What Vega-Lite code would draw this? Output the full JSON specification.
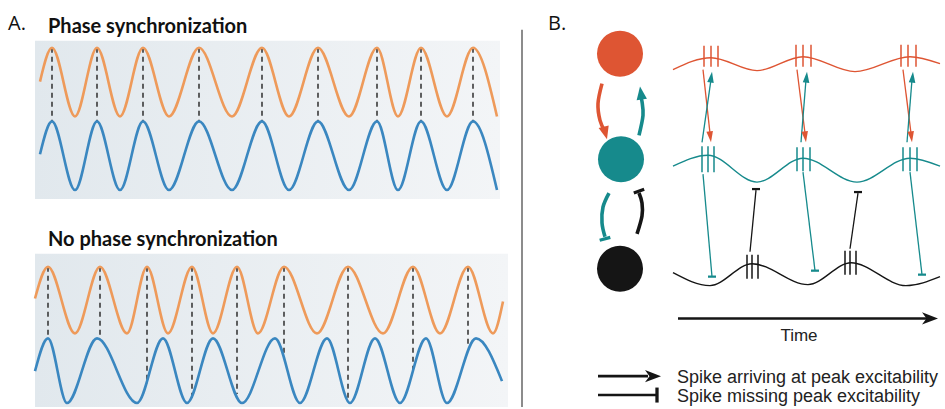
{
  "$schema": "https://vega.github.io/schema/vega-lite/v6.json",
  "width": 945,
  "height": 409,
  "autosize": {"type": "fit", "contains": "padding"},
  "padding": 0,
  "background": "white",
  "config": {"view": {"stroke": null}},
  "datasets": {
    "bg": [
      {"x": 35, "x2": 500, "y": 41, "y2": 200},
      {"x": 35, "x2": 508, "y": 255, "y2": 409}
    ],
    "wavesA": [
      {"g": "signal 1", "s": "A1o", "x": 40, "y": 82}, {"g": "signal 1", "s": "A1o", "x": 52, "y": 48}, {"g": "signal 1", "s": "A1o", "x": 75, "y": 117}, {"g": "signal 1", "s": "A1o", "x": 97, "y": 48}, {"g": "signal 1", "s": "A1o", "x": 120, "y": 117}, {"g": "signal 1", "s": "A1o", "x": 143, "y": 48}, {"g": "signal 1", "s": "A1o", "x": 169, "y": 117}, {"g": "signal 1", "s": "A1o", "x": 199, "y": 48}, {"g": "signal 1", "s": "A1o", "x": 232, "y": 117}, {"g": "signal 1", "s": "A1o", "x": 262, "y": 48}, {"g": "signal 1", "s": "A1o", "x": 289, "y": 117}, {"g": "signal 1", "s": "A1o", "x": 318, "y": 48}, {"g": "signal 1", "s": "A1o", "x": 349, "y": 117}, {"g": "signal 1", "s": "A1o", "x": 377, "y": 48}, {"g": "signal 1", "s": "A1o", "x": 398, "y": 117}, {"g": "signal 1", "s": "A1o", "x": 421, "y": 48}, {"g": "signal 1", "s": "A1o", "x": 447, "y": 117}, {"g": "signal 1", "s": "A1o", "x": 473, "y": 48}, {"g": "signal 1", "s": "A1o", "x": 497, "y": 117},
      {"g": "signal 2", "s": "A1b", "x": 40, "y": 155}, {"g": "signal 2", "s": "A1b", "x": 52, "y": 122}, {"g": "signal 2", "s": "A1b", "x": 75, "y": 191}, {"g": "signal 2", "s": "A1b", "x": 97, "y": 122}, {"g": "signal 2", "s": "A1b", "x": 120, "y": 191}, {"g": "signal 2", "s": "A1b", "x": 143, "y": 122}, {"g": "signal 2", "s": "A1b", "x": 169, "y": 191}, {"g": "signal 2", "s": "A1b", "x": 199, "y": 122}, {"g": "signal 2", "s": "A1b", "x": 232, "y": 191}, {"g": "signal 2", "s": "A1b", "x": 262, "y": 122}, {"g": "signal 2", "s": "A1b", "x": 289, "y": 191}, {"g": "signal 2", "s": "A1b", "x": 318, "y": 122}, {"g": "signal 2", "s": "A1b", "x": 349, "y": 191}, {"g": "signal 2", "s": "A1b", "x": 377, "y": 122}, {"g": "signal 2", "s": "A1b", "x": 398, "y": 191}, {"g": "signal 2", "s": "A1b", "x": 421, "y": 122}, {"g": "signal 2", "s": "A1b", "x": 447, "y": 191}, {"g": "signal 2", "s": "A1b", "x": 473, "y": 122}, {"g": "signal 2", "s": "A1b", "x": 497, "y": 191},
      {"g": "signal 1", "s": "A2o", "x": 35, "y": 300}, {"g": "signal 1", "s": "A2o", "x": 48, "y": 268}, {"g": "signal 1", "s": "A2o", "x": 75, "y": 335}, {"g": "signal 1", "s": "A2o", "x": 100, "y": 268}, {"g": "signal 1", "s": "A2o", "x": 127, "y": 335}, {"g": "signal 1", "s": "A2o", "x": 147, "y": 268}, {"g": "signal 1", "s": "A2o", "x": 168, "y": 335}, {"g": "signal 1", "s": "A2o", "x": 192, "y": 268}, {"g": "signal 1", "s": "A2o", "x": 213, "y": 335}, {"g": "signal 1", "s": "A2o", "x": 237, "y": 268}, {"g": "signal 1", "s": "A2o", "x": 258, "y": 335}, {"g": "signal 1", "s": "A2o", "x": 284, "y": 268}, {"g": "signal 1", "s": "A2o", "x": 317, "y": 335}, {"g": "signal 1", "s": "A2o", "x": 348, "y": 268}, {"g": "signal 1", "s": "A2o", "x": 383, "y": 335}, {"g": "signal 1", "s": "A2o", "x": 413, "y": 268}, {"g": "signal 1", "s": "A2o", "x": 440, "y": 335}, {"g": "signal 1", "s": "A2o", "x": 468, "y": 268}, {"g": "signal 1", "s": "A2o", "x": 493, "y": 335}, {"g": "signal 1", "s": "A2o", "x": 503, "y": 303},
      {"g": "signal 2", "s": "A2b", "x": 35, "y": 373}, {"g": "signal 2", "s": "A2b", "x": 48, "y": 340}, {"g": "signal 2", "s": "A2b", "x": 67, "y": 405}, {"g": "signal 2", "s": "A2b", "x": 97, "y": 340}, {"g": "signal 2", "s": "A2b", "x": 137, "y": 405}, {"g": "signal 2", "s": "A2b", "x": 163, "y": 340}, {"g": "signal 2", "s": "A2b", "x": 187, "y": 405}, {"g": "signal 2", "s": "A2b", "x": 213, "y": 340}, {"g": "signal 2", "s": "A2b", "x": 242, "y": 405}, {"g": "signal 2", "s": "A2b", "x": 275, "y": 340}, {"g": "signal 2", "s": "A2b", "x": 300, "y": 405}, {"g": "signal 2", "s": "A2b", "x": 327, "y": 340}, {"g": "signal 2", "s": "A2b", "x": 350, "y": 405}, {"g": "signal 2", "s": "A2b", "x": 375, "y": 340}, {"g": "signal 2", "s": "A2b", "x": 400, "y": 405}, {"g": "signal 2", "s": "A2b", "x": 426, "y": 340}, {"g": "signal 2", "s": "A2b", "x": 447, "y": 405}, {"g": "signal 2", "s": "A2b", "x": 476, "y": 340}, {"g": "signal 2", "s": "A2b", "x": 502, "y": 383}
    ],
    "dashes": [
      {"x": 52, "y": 48, "y2": 122}, {"x": 97, "y": 48, "y2": 122}, {"x": 143, "y": 48, "y2": 122}, {"x": 199, "y": 48, "y2": 122}, {"x": 262, "y": 48, "y2": 122}, {"x": 318, "y": 48, "y2": 122}, {"x": 377, "y": 48, "y2": 122}, {"x": 421, "y": 48, "y2": 122}, {"x": 473, "y": 48, "y2": 122},
      {"x": 48, "y": 268, "y2": 340}, {"x": 100, "y": 268, "y2": 341}, {"x": 147, "y": 268, "y2": 386}, {"x": 192, "y": 268, "y2": 400}, {"x": 237, "y": 268, "y2": 396}, {"x": 284, "y": 268, "y2": 356}, {"x": 348, "y": 268, "y2": 402}, {"x": 413, "y": 268, "y2": 375}, {"x": 468, "y": 268, "y2": 348}
    ],
    "divider": [{"x": 522, "y": 30, "y2": 409}],
    "wavesB": [
      {"g": "neuron 1", "s": "Br", "x": 673, "y": 70}, {"g": "neuron 1", "s": "Br", "x": 711, "y": 58}, {"g": "neuron 1", "s": "Br", "x": 757, "y": 71}, {"g": "neuron 1", "s": "Br", "x": 803, "y": 57}, {"g": "neuron 1", "s": "Br", "x": 855, "y": 72}, {"g": "neuron 1", "s": "Br", "x": 910, "y": 57}, {"g": "neuron 1", "s": "Br", "x": 940, "y": 64},
      {"g": "neuron 2", "s": "Bt", "x": 673, "y": 167}, {"g": "neuron 2", "s": "Bt", "x": 708, "y": 156}, {"g": "neuron 2", "s": "Bt", "x": 757, "y": 183}, {"g": "neuron 2", "s": "Bt", "x": 803, "y": 159}, {"g": "neuron 2", "s": "Bt", "x": 857, "y": 183}, {"g": "neuron 2", "s": "Bt", "x": 910, "y": 159}, {"g": "neuron 2", "s": "Bt", "x": 940, "y": 167},
      {"g": "neuron 3", "s": "Bk", "x": 673, "y": 274}, {"g": "neuron 3", "s": "Bk", "x": 710, "y": 287}, {"g": "neuron 3", "s": "Bk", "x": 752, "y": 265}, {"g": "neuron 3", "s": "Bk", "x": 808, "y": 286}, {"g": "neuron 3", "s": "Bk", "x": 851, "y": 264}, {"g": "neuron 3", "s": "Bk", "x": 906, "y": 287}, {"g": "neuron 3", "s": "Bk", "x": 940, "y": 278}
    ],
    "curves": [
      {"g": "neuron 1", "s": "c1", "i": 0, "x": 602, "y": 84}, {"g": "neuron 1", "s": "c1", "i": 1, "x": 598, "y": 104}, {"g": "neuron 1", "s": "c1", "i": 2, "x": 600, "y": 121}, {"g": "neuron 1", "s": "c1", "i": 3, "x": 605, "y": 132},
      {"g": "neuron 2", "s": "c2", "i": 0, "x": 639, "y": 136}, {"g": "neuron 2", "s": "c2", "i": 1, "x": 643, "y": 116}, {"g": "neuron 2", "s": "c2", "i": 2, "x": 642, "y": 102}, {"g": "neuron 2", "s": "c2", "i": 3, "x": 640, "y": 95},
      {"g": "neuron 2", "s": "c3", "i": 0, "x": 609, "y": 194}, {"g": "neuron 2", "s": "c3", "i": 1, "x": 603, "y": 208}, {"g": "neuron 2", "s": "c3", "i": 2, "x": 602, "y": 224}, {"g": "neuron 2", "s": "c3", "i": 3, "x": 605, "y": 238},
      {"g": "neuron 3", "s": "c4", "i": 0, "x": 637, "y": 235}, {"g": "neuron 3", "s": "c4", "i": 1, "x": 642, "y": 217}, {"g": "neuron 3", "s": "c4", "i": 2, "x": 642, "y": 204}, {"g": "neuron 3", "s": "c4", "i": 3, "x": 639, "y": 194}
    ],
    "spikes": [
      {"g": "neuron 1", "x": 704, "y": 46, "y2": 67}, {"g": "neuron 1", "x": 711, "y": 46, "y2": 67}, {"g": "neuron 1", "x": 718, "y": 46, "y2": 67},
      {"g": "neuron 1", "x": 796, "y": 45, "y2": 67}, {"g": "neuron 1", "x": 803, "y": 45, "y2": 67}, {"g": "neuron 1", "x": 811, "y": 45, "y2": 67},
      {"g": "neuron 1", "x": 901, "y": 45, "y2": 67}, {"g": "neuron 1", "x": 908, "y": 45, "y2": 67}, {"g": "neuron 1", "x": 916, "y": 45, "y2": 67},
      {"g": "neuron 2", "x": 702, "y": 147, "y2": 173}, {"g": "neuron 2", "x": 708, "y": 147, "y2": 173}, {"g": "neuron 2", "x": 714, "y": 147, "y2": 173},
      {"g": "neuron 2", "x": 797, "y": 148, "y2": 172}, {"g": "neuron 2", "x": 803, "y": 148, "y2": 172}, {"g": "neuron 2", "x": 810, "y": 148, "y2": 172},
      {"g": "neuron 2", "x": 903, "y": 148, "y2": 172}, {"g": "neuron 2", "x": 910, "y": 148, "y2": 172}, {"g": "neuron 2", "x": 917, "y": 148, "y2": 172},
      {"g": "neuron 3", "x": 747, "y": 256, "y2": 280}, {"g": "neuron 3", "x": 752, "y": 256, "y2": 280}, {"g": "neuron 3", "x": 758, "y": 256, "y2": 280},
      {"g": "neuron 3", "x": 845, "y": 252, "y2": 276}, {"g": "neuron 3", "x": 850, "y": 252, "y2": 276}, {"g": "neuron 3", "x": 856, "y": 252, "y2": 276}
    ],
    "links": [
      {"g": "neuron 1", "x": 703, "y": 70, "x2": 710, "y2": 134}, {"g": "neuron 1", "x": 797, "y": 70, "x2": 805, "y2": 134}, {"g": "neuron 1", "x": 903, "y": 70, "x2": 911, "y2": 134},
      {"g": "neuron 2", "x": 702, "y": 143, "x2": 711, "y2": 80}, {"g": "neuron 2", "x": 801, "y": 143, "x2": 806, "y2": 80}, {"g": "neuron 2", "x": 907, "y": 143, "x2": 912, "y2": 80},
      {"g": "neuron 2", "x": 703, "y": 175, "x2": 712, "y2": 278}, {"g": "neuron 2", "x": 803, "y": 173, "x2": 815, "y2": 272}, {"g": "neuron 2", "x": 910, "y": 173, "x2": 922, "y2": 276},
      {"g": "neuron 3", "x": 750, "y": 253, "x2": 756, "y2": 191}, {"g": "neuron 3", "x": 850, "y": 250, "x2": 858, "y2": 194}
    ],
    "guides": [
      {"g": "axis", "x": 678, "y": 320, "x2": 928, "y2": 320},
      {"g": "axis", "x": 598, "y": 378, "x2": 648, "y2": 378},
      {"g": "axis", "x": 598, "y": 397, "x2": 656, "y2": 397}
    ],
    "headsSmall": [
      {"g": "neuron 1", "x": 711, "y": 143, "dir": 173}, {"g": "neuron 1", "x": 806, "y": 143, "dir": 173}, {"g": "neuron 1", "x": 912, "y": 143, "dir": 173},
      {"g": "neuron 2", "x": 712, "y": 72, "dir": 8}, {"g": "neuron 2", "x": 807, "y": 72, "dir": 5}, {"g": "neuron 2", "x": 913, "y": 72, "dir": 5}
    ],
    "headsCurve": [
      {"g": "neuron 1", "x": 607, "y": 140, "dir": 165},
      {"g": "neuron 2", "x": 640, "y": 87, "dir": 352}
    ],
    "headsLarge": [
      {"g": "axis", "x": 938, "y": 320, "dir": 90},
      {"g": "axis", "x": 661, "y": 378, "dir": 90}
    ],
    "barsSmall": [
      {"g": "neuron 2", "x": 712, "y": 278, "dir": 0}, {"g": "neuron 2", "x": 815, "y": 272, "dir": 0}, {"g": "neuron 2", "x": 922, "y": 276, "dir": 0},
      {"g": "neuron 3", "x": 756, "y": 190, "dir": 0}, {"g": "neuron 3", "x": 858, "y": 193, "dir": 0}
    ],
    "barsCurve": [
      {"g": "neuron 2", "x": 605, "y": 240, "dir": 345},
      {"g": "neuron 3", "x": 639, "y": 192, "dir": 340}
    ],
    "barsLegend": [
      {"g": "axis", "x": 657, "y": 397, "dir": 90}
    ],
    "nodes": [
      {"g": "neuron 1", "x": 620, "y": 54},
      {"g": "neuron 2", "x": 621, "y": 160},
      {"g": "neuron 3", "x": 620, "y": 270}
    ],
    "panelLabels": [
      {"t": "A.", "x": 8, "y": 30},
      {"t": "B.", "x": 548, "y": 30}
    ],
    "titles": [
      {"t": "Phase synchronization", "x": 48, "y": 33},
      {"t": "No phase synchronization", "x": 48, "y": 247}
    ],
    "timeLabel": [{"t": "Time", "x": 799, "y": 343}],
    "legendText": [
      {"t": "Spike arriving at peak excitability", "x": 677, "y": 385},
      {"t": "Spike missing peak excitability", "x": 677, "y": 404}
    ]
  },
  "encoding": {
    "x": {"field": "x", "type": "quantitative", "scale": {"domain": [0, 945], "nice": false, "zero": false}, "axis": null},
    "y": {"field": "y", "type": "quantitative", "scale": {"domain": [0, 409], "nice": false, "zero": false, "reverse": true}, "axis": null}
  },
  "layer": [
    {
      "data": {"name": "bg"},
      "mark": {"type": "rect", "color": {"gradient": "linear", "x1": 0, "x2": 1, "y1": 0, "y2": 0, "stops": [{"offset": 0, "color": "#E1E8ED"}, {"offset": 1, "color": "#F3F5F7"}]}},
      "encoding": {"x2": {"field": "x2"}, "y2": {"field": "y2"}}
    },
    {
      "data": {"name": "dashes"},
      "mark": {"type": "rule", "color": "#3a3a3a", "strokeWidth": 1.6, "strokeDash": [5, 4]},
      "encoding": {"y2": {"field": "y2"}}
    },
    {
      "data": {"name": "wavesA"},
      "mark": {"type": "line", "interpolate": "monotone", "strokeWidth": 2.6},
      "encoding": {
        "detail": {"field": "s"},
        "color": {"field": "g", "type": "nominal", "scale": {"domain": ["signal 1", "signal 2", "neuron 1", "neuron 2", "neuron 3", "axis"], "range": ["#EE9A5A", "#3A87C0", "#DE5533", "#168A8C", "#151515", "#151515"]}, "legend": null}
      }
    },
    {
      "data": {"name": "divider"},
      "mark": {"type": "rule", "color": "#666666", "strokeWidth": 1.5},
      "encoding": {"y2": {"field": "y2"}}
    },
    {
      "data": {"name": "wavesB"},
      "mark": {"type": "line", "interpolate": "monotone", "strokeWidth": 1.4},
      "encoding": {
        "detail": {"field": "s"},
        "color": {"field": "g", "type": "nominal", "scale": {"domain": ["signal 1", "signal 2", "neuron 1", "neuron 2", "neuron 3", "axis"], "range": ["#EE9A5A", "#3A87C0", "#DE5533", "#168A8C", "#151515", "#151515"]}, "legend": null}
      }
    },
    {
      "data": {"name": "curves"},
      "mark": {"type": "line", "interpolate": "cardinal", "strokeWidth": 3.6},
      "encoding": {
        "detail": {"field": "s"},
        "order": {"field": "i"},
        "color": {"field": "g", "type": "nominal", "scale": {"domain": ["signal 1", "signal 2", "neuron 1", "neuron 2", "neuron 3", "axis"], "range": ["#EE9A5A", "#3A87C0", "#DE5533", "#168A8C", "#151515", "#151515"]}, "legend": null}
      }
    },
    {
      "data": {"name": "spikes"},
      "mark": {"type": "rule", "strokeWidth": 1.5},
      "encoding": {
        "y2": {"field": "y2"},
        "color": {"field": "g", "type": "nominal", "scale": {"domain": ["signal 1", "signal 2", "neuron 1", "neuron 2", "neuron 3", "axis"], "range": ["#EE9A5A", "#3A87C0", "#DE5533", "#168A8C", "#151515", "#151515"]}, "legend": null}
      }
    },
    {
      "data": {"name": "links"},
      "mark": {"type": "rule", "strokeWidth": 1.3},
      "encoding": {
        "x2": {"field": "x2"},
        "y2": {"field": "y2"},
        "color": {"field": "g", "type": "nominal", "scale": {"domain": ["signal 1", "signal 2", "neuron 1", "neuron 2", "neuron 3", "axis"], "range": ["#EE9A5A", "#3A87C0", "#DE5533", "#168A8C", "#151515", "#151515"]}, "legend": null}
      }
    },
    {
      "data": {"name": "guides"},
      "mark": {"type": "rule", "strokeWidth": 2.6, "color": "#151515"},
      "encoding": {"x2": {"field": "x2"}, "y2": {"field": "y2"}}
    },
    {
      "data": {"name": "headsSmall"},
      "mark": {"type": "point", "filled": true, "opacity": 1, "shape": "M0,0L0.3,1L-0.3,1Z", "size": 484},
      "encoding": {
        "angle": {"field": "dir", "type": "quantitative", "scale": null},
        "color": {"field": "g", "type": "nominal", "scale": {"domain": ["signal 1", "signal 2", "neuron 1", "neuron 2", "neuron 3", "axis"], "range": ["#EE9A5A", "#3A87C0", "#DE5533", "#168A8C", "#151515", "#151515"]}, "legend": null}
      }
    },
    {
      "data": {"name": "headsCurve"},
      "mark": {"type": "point", "filled": true, "opacity": 1, "shape": "M0,0L0.4,1L-0.4,1Z", "size": 676},
      "encoding": {
        "angle": {"field": "dir", "type": "quantitative", "scale": null},
        "color": {"field": "g", "type": "nominal", "scale": {"domain": ["signal 1", "signal 2", "neuron 1", "neuron 2", "neuron 3", "axis"], "range": ["#EE9A5A", "#3A87C0", "#DE5533", "#168A8C", "#151515", "#151515"]}, "legend": null}
      }
    },
    {
      "data": {"name": "headsLarge"},
      "mark": {"type": "point", "filled": true, "opacity": 1, "shape": "M0,0L0.38,1L0,0.72L-0.38,1Z", "size": 1024, "color": "#151515"},
      "encoding": {"angle": {"field": "dir", "type": "quantitative", "scale": null}}
    },
    {
      "data": {"name": "barsSmall"},
      "mark": {"type": "point", "filled": true, "opacity": 1, "shape": "M-1,-0.28H1V0.28H-1Z", "size": 64},
      "encoding": {
        "angle": {"field": "dir", "type": "quantitative", "scale": null},
        "color": {"field": "g", "type": "nominal", "scale": {"domain": ["signal 1", "signal 2", "neuron 1", "neuron 2", "neuron 3", "axis"], "range": ["#EE9A5A", "#3A87C0", "#DE5533", "#168A8C", "#151515", "#151515"]}, "legend": null}
      }
    },
    {
      "data": {"name": "barsCurve"},
      "mark": {"type": "point", "filled": true, "opacity": 1, "shape": "M-1,-0.3H1V0.3H-1Z", "size": 121},
      "encoding": {
        "angle": {"field": "dir", "type": "quantitative", "scale": null},
        "color": {"field": "g", "type": "nominal", "scale": {"domain": ["signal 1", "signal 2", "neuron 1", "neuron 2", "neuron 3", "axis"], "range": ["#EE9A5A", "#3A87C0", "#DE5533", "#168A8C", "#151515", "#151515"]}, "legend": null}
      }
    },
    {
      "data": {"name": "barsLegend"},
      "mark": {"type": "point", "filled": true, "opacity": 1, "shape": "M-1,-0.22H1V0.22H-1Z", "size": 225, "color": "#151515"},
      "encoding": {"angle": {"field": "dir", "type": "quantitative", "scale": null}}
    },
    {
      "data": {"name": "nodes"},
      "mark": {"type": "point", "shape": "circle", "filled": true, "opacity": 1, "size": 2116},
      "encoding": {
        "color": {"field": "g", "type": "nominal", "scale": {"domain": ["signal 1", "signal 2", "neuron 1", "neuron 2", "neuron 3", "axis"], "range": ["#EE9A5A", "#3A87C0", "#DE5533", "#168A8C", "#151515", "#151515"]}, "legend": null}
      }
    },
    {
      "data": {"name": "panelLabels"},
      "mark": {"type": "text", "align": "left", "baseline": "alphabetic", "font": "Open Sans", "fontSize": 20, "color": "#111111"},
      "encoding": {"text": {"field": "t"}}
    },
    {
      "data": {"name": "titles"},
      "mark": {"type": "text", "align": "left", "baseline": "alphabetic", "font": "Lato", "fontWeight": "bold", "fontSize": 20, "color": "#111111"},
      "encoding": {"text": {"field": "t"}}
    },
    {
      "data": {"name": "timeLabel"},
      "mark": {"type": "text", "align": "center", "baseline": "alphabetic", "font": "Liberation Sans", "fontSize": 17, "color": "#222222"},
      "encoding": {"text": {"field": "t"}}
    },
    {
      "data": {"name": "legendText"},
      "mark": {"type": "text", "align": "left", "baseline": "alphabetic", "font": "Liberation Sans", "fontSize": 18, "color": "#222222"},
      "encoding": {"text": {"field": "t"}}
    }
  ]
}
